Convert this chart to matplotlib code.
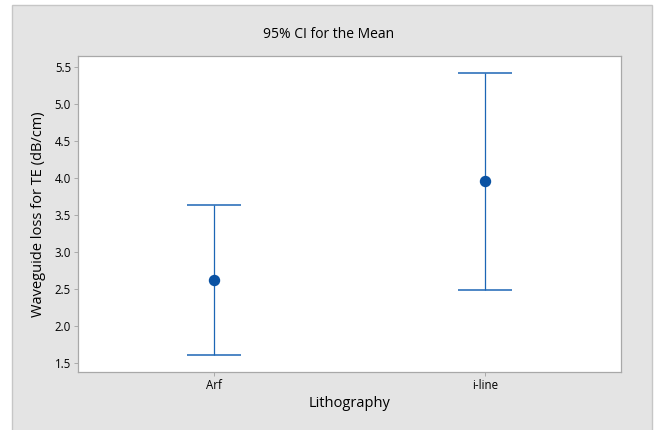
import numpy as np
import matplotlib.pyplot as plt
from matplotlib.patches import Rectangle

# Interval plot data
groups = ["Arf", "i-line"]
means = [2.625, 3.962]
ci_low = [1.612, 2.483]
ci_high = [3.632, 5.415]
yticks = [1.5, 2.0, 2.5, 3.0, 3.5, 4.0, 4.5, 5.0, 5.5]

plt.rcParams['font.family'] = ['Open Sans', 'DejaVu Sans']

fig = plt.figure(figsize=(6.57, 4.3), dpi=100)
fig.patch.set_facecolor("white")

# grey backdrop with thin border
bg = Rectangle((12 / 657, -0.05), 640 / 657, 425 / 430 + 0.05, transform=fig.transFigure,
               facecolor="#e4e4e4", edgecolor="#c6c6c6", linewidth=1.0, zorder=-10)
fig.patches.append(bg)

ax = fig.add_axes([78 / 657, 1 - 372 / 430, 543 / 657, 316 / 430])
ax.set_facecolor("white")

x = np.arange(len(groups))
m = np.array(means)
yerr = [m - np.array(ci_low), np.array(ci_high) - m]
ax.errorbar(x, m, yerr=yerr, fmt="none", ecolor="#1c66b5", elinewidth=0.9,
            capsize=19.5, capthick=1.1)
ax.plot(x, m, "o", color="#0a52a3", markersize=7.2, zorder=3)

ax.set_xlim(-0.5, 1.5)
ax.set_ylim(1.38, 5.65)
ax.set_xticks(x)
ax.set_xticklabels(groups, fontsize=8.3, fontweight="medium")
ax.set_yticks(yticks)
ax.set_yticklabels([f"{v:.1f}" for v in yticks], fontsize=8.3, fontweight="medium")
ax.tick_params(length=3, width=0.6, color="#a0a0a0", pad=2)

for s in ax.spines.values():
    s.set_color("#a8a8a8")
    s.set_linewidth(0.9)

ax.set_xlabel("Lithography", fontsize=10.5, labelpad=3)
ax.set_ylabel("Waveguide loss for TE (dB/cm)", fontsize=10.5, labelpad=6)
fig.text(0.5, 1 - 35 / 430, "95% CI for the Mean", ha="center", va="center", fontsize=10)

fig.savefig("out.png", dpi=100)
